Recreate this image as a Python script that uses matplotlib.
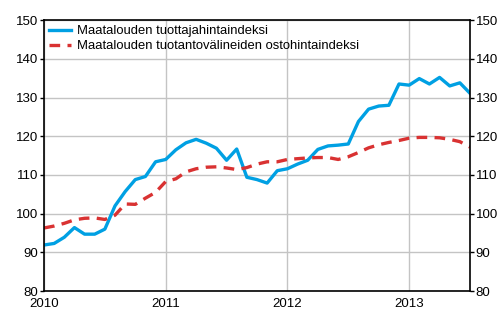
import matplotlib
matplotlib.use("Agg")
import matplotlib.pyplot as plt
import numpy as np

plt.rcParams["font.family"] = ["Liberation Sans", "DejaVu Sans"]

# monthly index values, Jan 2010 .. Jul 2013
producer = [91.9, 92.3, 93.9, 96.4, 94.7, 94.7, 96.0, 102.0, 105.7, 108.8, 109.6, 113.4,
            114.0, 116.5, 118.3, 119.2, 118.2, 116.9, 113.8, 116.7, 109.4, 108.8, 107.9, 111.1,
            111.6, 112.8, 113.8, 116.6, 117.5, 117.7, 118.0, 123.8, 127.0, 127.8, 128.0, 133.5,
            133.2, 134.9, 133.5, 135.2, 133.0, 133.8, 131.1]
means = [96.3, 96.8, 97.5, 98.4, 98.8, 98.9, 98.5, 99.6, 102.5, 102.4, 104.0, 105.5,
         108.3, 109.0, 110.8, 111.6, 112.0, 112.1, 111.8, 111.4, 111.9, 112.8, 113.4, 113.4,
         114.0, 114.2, 114.4, 114.5, 114.5, 114.0, 114.7, 115.8, 117.0, 117.8, 118.4, 118.9,
         119.5, 119.7, 119.7, 119.6, 119.2, 118.6, 117.2]
labels = ["Maatalouden tuottajahintaindeksi", "Maatalouden tuotantovälineiden ostohintaindeksi"]
years = [2010, 2011, 2012, 2013]

x = 2010 + np.arange(len(producer)) / 12.0

fig = plt.figure(figsize=(5.0, 3.3), dpi=100)
ax = fig.add_axes([0.088, 0.118, 0.852, 0.821])

ax.plot(x, producer, color="#00a0e3", linewidth=2.4, label=labels[0])
ax.plot(x, means, color="#d93232", linewidth=2.4, dashes=(3.2, 2.2), label=labels[1])

ax.set_xlim(2010, x[-1])
ax.set_ylim(80, 150)
ax.set_xticks(years)
ax.set_xticklabels([str(y) for y in years])
ax.set_yticks(range(80, 151, 10))
ax.grid(color="#c4c4c4", linewidth=1.0)
ax.set_axisbelow(True)
ax.tick_params(axis="both", labelsize=9.5, length=3, width=1, pad=1)
ax.tick_params(axis="x", length=0, pad=5)
ax.tick_params(axis="y", right=True, labelright=True)
for s in ax.spines.values():
    s.set_linewidth(1.2)

ax.legend(loc="upper left", frameon=False, fontsize=9.4, handlelength=1.7,
          borderaxespad=0.2, labelspacing=0.2, handletextpad=0.4, borderpad=0.2)

fig.savefig("out.png", dpi=100)
